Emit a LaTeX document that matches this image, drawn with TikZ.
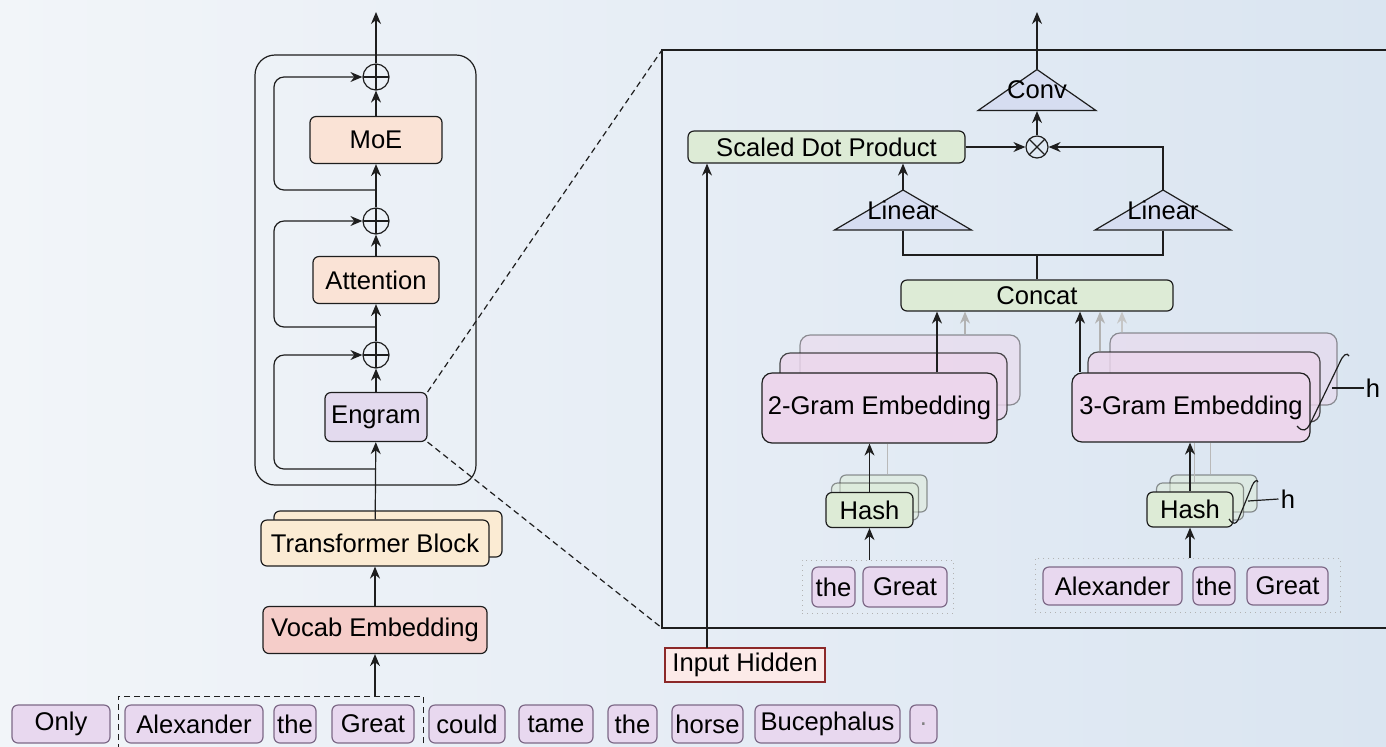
\documentclass[tikz,border=0pt]{standalone}
\usepackage{fontspec}
\setmainfont{Liberation Sans}
\usetikzlibrary{shapes.geometric, arrows, arrows.meta}

\definecolor{moeFill}{RGB}{250,227,214}
\definecolor{engramFill}{RGB}{227,218,238}
\definecolor{tfFill}{RGB}{251,235,211}
\definecolor{vocabFill}{RGB}{245,205,201}
\definecolor{tokFill}{RGB}{232,216,239}
\definecolor{tokLine}{RGB}{125,105,135}
\definecolor{greenFill}{RGB}{221,235,214}
\definecolor{blueFill}{RGB}{214,221,241}
\definecolor{embFill}{RGB}{236,214,236}
\definecolor{inFill}{RGB}{252,234,232}
\definecolor{inLine}{RGB}{140,40,40}
\definecolor{lineCol}{RGB}{30,30,30}
\definecolor{bgLeft}{RGB}{242,245,249}
\definecolor{bgRight}{RGB}{218,229,241}

\tikzstyle{block} = [rectangle,
	rounded corners=3pt,
	draw=lineCol,
	line width=0.6pt,
	text centered,
	inner sep=1pt,
	font=\fontsize{12.8}{15}\selectfont
	]
\tikzstyle{token} = [block,
	fill=tokFill,
	draw=tokLine,
	minimum height=19pt
	]
\tikzstyle{emb} = [block,
	rounded corners=5pt,
	fill=embFill
	]
\tikzstyle{layerback} = [fill opacity=0.5,
	draw opacity=0.45
	]
\tikzstyle{trap} = [trapezium,
	trapezium stretches=true,
	trapezium left angle=55,
	trapezium right angle=55,
	draw=lineCol,
	line width=0.6pt,
	fill=blueFill,
	inner sep=0pt,
	font=\fontsize{12.8}{15}\selectfont
	]
\tikzstyle{addop} = [circle,
	draw=lineCol,
	line width=0.6pt,
	minimum size=13pt,
	inner sep=0pt,
	path picture={\draw[line width=0.6pt] (path picture bounding box.north) -- (path picture bounding box.south) (path picture bounding box.west) -- (path picture bounding box.east);}
	]
\tikzstyle{mulop} = [circle,
	draw=lineCol,
	line width=0.6pt,
	minimum size=11pt,
	inner sep=0pt,
	path picture={\draw[line width=0.6pt] (path picture bounding box.north west) -- (path picture bounding box.south east) (path picture bounding box.north east) -- (path picture bounding box.south west);}
	]
\tikzstyle{window} = [rectangle,
	draw=gray!60,
	line width=0.5pt,
	dotted
	]
\tikzstyle{wire} = [line width=0.6pt, draw=lineCol]
\tikzstyle{faint} = [line width=0.5pt, draw=gray!55]
\tikzstyle{arrow} = [line width=0.6pt, draw=lineCol, -{Stealth[length=6pt, width=5pt]}]

\begin{document}
\begin{tikzpicture}[x=0.5pt, y=-0.5pt]

\useasboundingbox (0,0) rectangle (1386,746);
\shade[left color=bgLeft, right color=bgRight] (0,0) rectangle (1386,746);

% left column: layer stack
\node (layerFrame) [draw=lineCol, line width=0.6pt, rounded corners=10pt, minimum width=110.5pt, minimum height=215pt] at (365.5,270) {};

\node (aP1) [addop] at (376,77) {};
\node (moe) [block, fill=moeFill, minimum width=66pt, minimum height=23.5pt] at (376,140) {MoE};
\node (aP2) [addop] at (376,221) {};
\node (att) [block, fill=moeFill, minimum width=63pt, minimum height=23.5pt] at (376,280) {Attention};
\node (aP3) [addop] at (376,355) {};
\node (engram) [block, fill=engramFill, minimum width=51pt, minimum height=24.5pt] at (376,417) {Engram};

\node (tfBack) [block, fill=tfFill, minimum width=114pt, minimum height=23pt] at (388,534) {};
\node (tfBlock) [block, fill=tfFill, minimum width=114pt, minimum height=23pt] at (375,543) {Transformer Block};
\node (vocab) [block, fill=vocabFill, minimum width=112pt, minimum height=23.5pt] at (375,630) {Vocab Embedding};

% input sentence
\node (winMain) [rectangle, draw=lineCol, line width=0.5pt, dash pattern=on 3pt off 2pt, minimum width=152.5pt, minimum height=26pt] at (270.5,722) {};
\node (tOnly) [token, minimum width=49pt] at (61,724) {Only};
\node (tAlex) [token, minimum width=69pt] at (194,724) {Alexander};
\node (tThe) [token, minimum width=21pt] at (295,724) {the};
\node (tGreat) [token, minimum width=41pt] at (373,724) {Great};
\node (tCould) [token, minimum width=38pt] at (467,724) {could};
\node (tTame) [token, minimum width=37pt] at (556,724) {tame};
\node (tThe2) [token, minimum width=24.5pt] at (632.5,724) {the};
\node (tHorse) [token, minimum width=35.5pt] at (707.5,724) {horse};
\node (tBuce) [token, minimum width=72.5pt] at (827.5,724) {Bucephalus};
\node (tDot) [token, minimum width=13.5pt, text=gray] at (923.5,724) {.};

\coordinate (outLeft) at (376,12);
\coordinate (tapMoE) at (376,190);
\coordinate (tapAtt) at (376,327);
\coordinate (tapEng) at (376,469);

\draw [arrow] (aP1) -- (outLeft);
\draw [arrow] (moe) -- (aP1);
\draw [arrow] (aP2) -- (moe);
\draw [arrow] (att) -- (aP2);
\draw [arrow] (aP3) -- (att);
\draw [arrow] (engram) -- (aP3);
\draw [arrow] (tfBlock) -- (engram);
\draw [arrow] (vocab) -- (tfBlock);
\draw [arrow] (vocab.south |- winMain.north) -- (vocab.south);

\draw [arrow, rounded corners=5pt] (tapMoE) -- ++(-102,0) |- (aP1.west);
\draw [arrow, rounded corners=5pt] (tapAtt) -- ++(-102,0) |- (aP2.west);
\draw [arrow, rounded corners=5pt] (tapEng) -- ++(-102,0) |- (aP3.west);

% zoomed engram panel
\coordinate (zoomTL) at (662,50);
\coordinate (zoomBL) at (662,628);
\draw [wire] (1392,50) -- (zoomTL) -- (zoomBL) -- (1392,628);
\draw [wire, dash pattern=on 3pt off 2pt] (engram.north east) -- (zoomTL);
\draw [wire, dash pattern=on 3pt off 2pt] (engram.south east) -- (zoomBL);

\node (conv) [trap, minimum width=59pt, minimum height=20.5pt] at (1037,90) {\makebox[0pt]{Conv}};
\node (mul) [mulop] at (1037,147) {};
\node (sdp) [block, fill=greenFill, minimum width=138.5pt, minimum height=16pt] at (826.5,147) {Scaled Dot Product};
\node (linA) [trap, minimum width=68.5pt, minimum height=20pt] at (903,210) {\makebox[0pt]{Linear}};
\node (linB) [trap, minimum width=68pt, minimum height=20pt] at (1163,210) {\makebox[0pt]{Linear}};
\node (concat) [block, fill=greenFill, minimum width=136pt, minimum height=15.5pt] at (1037,295.5) {Concat};
\node (inHid) [block, rounded corners=0pt, fill=inFill, draw=inLine, minimum width=80pt, minimum height=17pt] at (745,665) {Input Hidden};

% 2-gram branch
\node (gramA3) [emb, layerback, minimum width=110pt, minimum height=35pt] at (910,370) {};
\node (gramA2) [emb, layerback, fill opacity=0.8, draw opacity=0.8, minimum width=113.5pt, minimum height=33.5pt] at (893.5,386.5) {};
\node (gramA) [emb, minimum width=117.5pt, minimum height=35pt] at (879.5,408) {2-Gram Embedding};
\node (hashA3) [block, layerback, fill=greenFill, minimum width=43.5pt, minimum height=18.5pt] at (883.5,493.5) {};
\node (hashA2) [block, layerback, fill=greenFill, minimum width=43.5pt, minimum height=18.5pt] at (875,501.5) {};
\node (hashA) [block, fill=greenFill, minimum width=43.5pt, minimum height=17.5pt] at (869.5,510) {Hash};
\node (winA) [window, minimum width=75.5pt, minimum height=26.5pt] at (877.5,586.5) {};
\node (tTheA) [token, minimum width=21.5pt, minimum height=20pt] at (833.5,587) {the};
\node (tGreatA) [token, minimum width=42pt, minimum height=20pt] at (905,587) {Great};

% 3-gram branch
\node (gramB3) [emb, layerback, minimum width=113.5pt, minimum height=36pt] at (1223.5,369) {};
\node (gramB2) [emb, layerback, fill opacity=0.8, draw opacity=0.8, minimum width=116pt, minimum height=35pt] at (1204,387) {};
\node (gramB) [emb, minimum width=119pt, minimum height=34.5pt] at (1191,407.5) {3-Gram Embedding};
\node (hashB3) [block, layerback, fill=greenFill, minimum width=43.5pt, minimum height=18.5pt] at (1213.5,493.5) {};
\node (hashB2) [block, layerback, fill=greenFill, minimum width=43.5pt, minimum height=18.5pt] at (1200,501.5) {};
\node (hashB) [block, fill=greenFill, minimum width=43pt, minimum height=17.5pt] at (1190,509.5) {Hash};
\node (winB) [window, minimum width=152.5pt, minimum height=27pt] at (1187.5,585) {};
\node (tAlexB) [token, minimum width=69.5pt] at (1112.5,586) {Alexander};
\node (tTheB) [token, minimum width=21pt] at (1214,586) {the};
\node (tGreatB) [token, minimum width=40.5pt] at (1287.5,586) {Great};

% head count braces
\draw [wire] (1297,426) .. controls (1303,433) and (1307,430) .. (1310,424) -- (1340,362) .. controls (1343,355) and (1347,352) .. (1349,356);
\draw [wire] (1229,519) .. controls (1233,525) and (1236,524) .. (1238,520) -- (1252,486) .. controls (1254,481) and (1257,479) .. (1258,482);
\node (hGram) [font=\fontsize{12.8}{15}\selectfont, inner sep=1pt] at (1373,388) {h};
\node (hHash) [font=\fontsize{12.8}{15}\selectfont, inner sep=1pt] at (1288,499) {h};
\coordinate (braceGram) at (1332,388);
\coordinate (braceHash) at (1248,501);
\draw [wire] (braceGram) -- (hGram.west);
\draw [wire] (braceHash) -- (hHash.west);

% engram connections
\coordinate (outRight) at (1037,12);
\coordinate (joinTop) at (1037,255);
\coordinate (inTap) at (707,648);

\draw [arrow] (conv.north) -- (outRight);
\draw [arrow] (mul) -- (conv.south);
\draw [arrow] (sdp.east) -- (mul.west);
\draw [arrow] (linB.north) |- (mul.east);
\draw [arrow] (linA.north) -- (linA.north |- sdp.south);
\draw [arrow] (inTap) -- (inTap |- sdp.south);
\draw [wire] (concat.north) -- (joinTop);
\draw [wire] (linA.south) |- (joinTop);
\draw [wire] (linB.south) |- (joinTop);

\draw [arrow] ([xshift=28.75pt]gramA.north) -- ([xshift=28.75pt]gramA.north |- concat.south);
\draw [arrow, draw=gray!60] ([xshift=27.5pt]gramA3.north) -- ([xshift=27.5pt]gramA3.north |- concat.south);
\draw [arrow] ([xshift=-55.5pt]gramB.north) -- ([xshift=-55.5pt]gramB.north |- concat.south);
\draw [arrow, draw=gray!60] ([xshift=-52pt]gramB2.north) -- ([xshift=-52pt]gramB2.north |- concat.south);
\draw [arrow, draw=gray!45] ([xshift=-50.75pt]gramB3.north) -- ([xshift=-50.75pt]gramB3.north |- concat.south);

\draw [faint] ([xshift=2pt]hashA3.north) -- ([xshift=2pt]hashA3.north |- gramA.south);
\draw [faint] ([xshift=-3pt]hashB2.north) -- ([xshift=-3pt]hashB2.north |- gramB.south);
\draw [faint] ([xshift=-1.5pt]hashB3.north) -- ([xshift=-1.5pt]hashB3.north |- gramB.south);
\draw [arrow] (hashA.north) -- (hashA.north |- gramA.south);
\draw [arrow] (hashB.north) -- (hashB.north |- gramB.south);
\draw [arrow] (hashA.south |- winA.north) -- (hashA.south);
\draw [arrow] (hashB.south |- winB.north) -- (hashB.south);

\end{tikzpicture}
\end{document}
